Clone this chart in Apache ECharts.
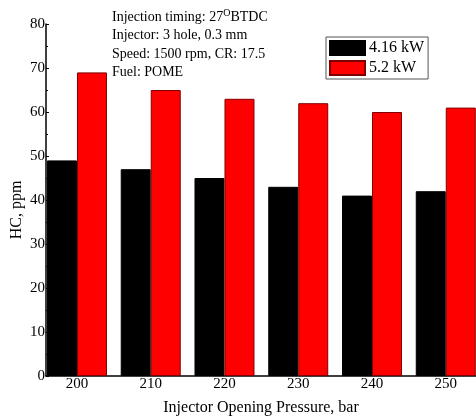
<!DOCTYPE html>
<html>
<head>
<meta charset="utf-8">
<script src="https://cdn.jsdelivr.net/npm/echarts@6/dist/echarts.min.js"></script>
<style>
html,body{margin:0;padding:0;background:#fff;}
#c{width:476px;height:419px;}
</style>
</head>
<body>
<div id="c"></div>
<script>
var pressures = [200, 210, 220, 230, 240, 250];
var hc416 = [49, 47, 45, 43, 41, 42];
var hc52 = [69, 65, 63, 62, 60, 61];
var yTicks = [0, 10, 20, 30, 40, 50, 60, 70, 80];
var seriesNames = ['4.16 kW', '5.2 kW'];
var noteLines = ['Injection timing: 27', 'Injector: 3 hole, 0.3 mm', 'Speed: 1500 rpm, CR: 17.5', 'Fuel: POME'];

var FONT = "'Liberation Serif', 'Times New Roman', serif";
var chart = echarts.init(document.getElementById('c'));

function pairs(vals) {
  return vals.map(function (v, i) { return [pressures[i], v]; });
}

chart.setOption({
  animation: false,
  backgroundColor: '#fff',
  textStyle: { fontFamily: FONT, color: '#000' },
  grid: { left: 46, right: 0, top: 24, bottom: 43, containLabel: false, outerBoundsMode: 'none' },
  legend: {
    orient: 'vertical',
    left: 326, top: 37,
    data: seriesNames,
    icon: 'rect',
    itemWidth: 35, itemHeight: 14, itemGap: 4,
    padding: [3, 4, 3, 3],
    borderColor: '#555', borderWidth: 1,
    textStyle: { fontFamily: FONT, fontSize: 16, color: '#000', padding: [0, 0, 0, -1] }
  },
  xAxis: {
    type: 'value',
    min: 195.8, max: 254.1,
    name: 'Injector Opening Pressure, bar',
    nameLocation: 'middle',
    nameGap: 24,
    nameMoveOverlap: false,
    nameTextStyle: { fontFamily: FONT, fontSize: 16, color: '#000' },
    axisLine: { show: true, lineStyle: { color: '#000', width: 1.5 } },
    axisTick: { show: false },
    splitLine: { show: false },
    axisLabel: {
      margin: 1, fontFamily: FONT, fontSize: 15, color: '#000',
      showMinLabel: false, showMaxLabel: false,
      formatter: function (v) { return pressures.indexOf(v) >= 0 ? String(v) : ''; }
    }
  },
  yAxis: {
    type: 'value',
    min: 0, max: 80, interval: 10,
    name: 'HC, ppm',
    nameLocation: 'middle',
    nameGap: 21,
    nameMoveOverlap: false,
    nameTextStyle: { fontFamily: FONT, fontSize: 16, color: '#000', padding: [0, 0, 0, -20] },
    axisLine: { show: true, lineStyle: { color: '#000', width: 1.5 } },
    axisTick: { show: true, inside: true, length: 3, lineStyle: { color: '#000' } },
    minorTick: { show: true, splitNumber: 2, length: 2, lineStyle: { color: '#000' } },
    splitLine: { show: false },
    axisLabel: {
      margin: 1, fontFamily: FONT, fontSize: 15, color: '#000',
      formatter: function (v) { return yTicks.indexOf(v) >= 0 ? String(v) : ''; }
    }
  },
  series: [
    {
      name: seriesNames[0], type: 'bar', data: pairs(hc416),
      barWidth: 30, barGap: '0%',
      itemStyle: { color: '#000', borderColor: '#000', borderWidth: 1 }
    },
    {
      name: seriesNames[1], type: 'bar', data: pairs(hc52),
      barWidth: 30, barGap: '0%',
      itemStyle: { color: '#ff0000', borderColor: '#800000', borderWidth: 1 }
    }
  ],
  graphic: [
    {
      type: 'text', left: 112, top: 8, z: 10,
      style: {
        text: '{a|' + noteLines[0] + '}{s|O}{a|BTDC}\n{a|' + noteLines[1] + '}\n{a|' + noteLines[2] + '}\n{a|' + noteLines[3] + '}',
        fontFamily: FONT,
        rich: {
          a: { fontFamily: FONT, fontSize: 14, lineHeight: 18.5, fill: '#000' },
          s: { fontFamily: FONT, fontSize: 10, lineHeight: 18.5, verticalAlign: 'top', padding: [0, 0, 6, 0], fill: '#000' }
        }
      }
    }
  ]
});
</script>
</body>
</html>
